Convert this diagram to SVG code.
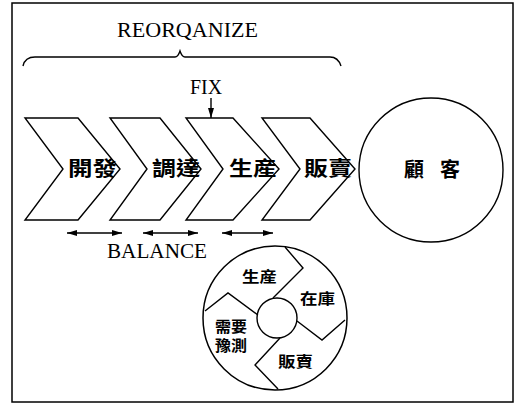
<svg xmlns="http://www.w3.org/2000/svg" width="519" height="405" viewBox="0 0 519 405">
<style>
.ln{fill:none;stroke:#000;stroke-width:1.4;stroke-linejoin:miter}
.chev{fill:#fff;stroke:#000;stroke-width:1.4}
.lat{font-family:"Liberation Serif","Times New Roman",serif;font-size:20px;fill:#000}
.cjk{font-family:"Noto Sans CJK TC","Noto Sans CJK JP",sans-serif;fill:#000}
.big{font-size:20px;font-weight:700}
.sm{font-size:15px;font-weight:700}
</style>
<defs>
<marker id="ah" viewBox="0 0 10 6" refX="10" refY="3" markerWidth="10" markerHeight="6" markerUnits="userSpaceOnUse" orient="auto-start-reverse">
<path d="M0,0 L10,3 L0,6 Z" fill="#000"/>
</marker>
</defs>
<rect x="12" y="3" width="501" height="399" fill="#fff" stroke="#000" stroke-width="1.5"/>
<g id="connectors">
<path class="ln" d="M23,66 Q25,57 35,57 L175,57 Q178,57 180,51 Q182,57 185,57 L330,57 Q338,57 341,66"/>
<line class="ln" x1="211" y1="98" x2="211" y2="118" marker-end="url(#ah)"/>
<line class="ln" x1="67" y1="233" x2="122" y2="233" marker-start="url(#ah)" marker-end="url(#ah)"/>
<line class="ln" x1="143" y1="233" x2="198" y2="233" marker-start="url(#ah)" marker-end="url(#ah)"/>
<line class="ln" x1="222" y1="233" x2="273" y2="233" marker-start="url(#ah)" marker-end="url(#ah)"/>
</g>
<g id="labels">
<text class="lat" x="117" y="37" textLength="141" lengthAdjust="spacingAndGlyphs">REORQANIZE</text>
<text class="lat" x="190" y="94" textLength="32" lengthAdjust="spacingAndGlyphs">FIX</text>
<text class="lat" x="107" y="258" textLength="100" lengthAdjust="spacingAndGlyphs">BALANCE</text>
</g>
<g id="kaihatsu">
<polygon class="chev" points="25,118 78,118 120,169 78,220 25,220 63,169"/>
<text class="cjk big" x="68" y="176" textLength="49" lengthAdjust="spacingAndGlyphs">開發</text>
</g>
<g id="choutatsu">
<polygon class="chev" points="110,118 160,118 201,169 160,220 110,220 147,169"/>
<text class="cjk big" x="152" y="176" textLength="48" lengthAdjust="spacingAndGlyphs">調達</text>
</g>
<g id="seisan">
<polygon class="chev" points="186,118 233,118 279,169 233,220 186,220 223,169"/>
<text class="cjk big" x="229" y="176" textLength="48" lengthAdjust="spacingAndGlyphs">生産</text>
</g>
<g id="hanbai">
<polygon class="chev" points="262,118 310,118 355,169 310,220 262,220 300,169"/>
<text class="cjk big" x="304" y="176" textLength="48" lengthAdjust="spacingAndGlyphs">販賣</text>
</g>
<g id="kokyaku">
<circle cx="431" cy="170" r="72" fill="#fff" stroke="#000" stroke-width="1.4"/>
<text class="cjk big" x="414" y="177" text-anchor="middle">顧</text>
<text class="cjk big" x="450" y="177" text-anchor="middle">客</text>
</g>
<g id="cycle">
<circle cx="275" cy="318" r="72" fill="#fff" stroke="#000" stroke-width="1.5"/>
<circle cx="277" cy="318" r="20" fill="#fff" stroke="#000" stroke-width="1.4"/>
<path class="ln" d="M285,247 L303,268 L273,298"/>
<path class="ln" d="M297,321 L322,340 L345,320"/>
<path class="ln" d="M280,338 L255,365 L278,389"/>
<path class="ln" d="M258,315 L228,293 L205,311"/>
<text class="cjk sm" x="242" y="282" textLength="35" lengthAdjust="spacingAndGlyphs">生産</text>
<text class="cjk sm" x="300" y="304" textLength="35" lengthAdjust="spacingAndGlyphs">在庫</text>
<text class="cjk sm" x="215" y="332" textLength="32" lengthAdjust="spacingAndGlyphs">需要</text>
<text class="cjk sm" x="215" y="351" textLength="32" lengthAdjust="spacingAndGlyphs">豫測</text>
<text class="cjk sm" x="278" y="367" textLength="35" lengthAdjust="spacingAndGlyphs">販賣</text>
</g>
</svg>
